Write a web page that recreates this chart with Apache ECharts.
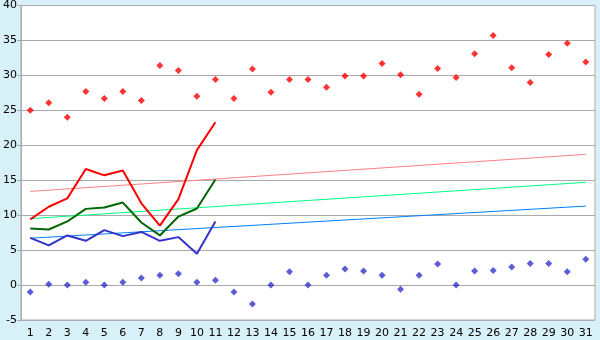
<!DOCTYPE html>
<html><head><meta charset="utf-8">
<script src="https://cdn.jsdelivr.net/npm/echarts@6/dist/echarts.min.js"></script>
<style>html,body{margin:0;padding:0;background:#D8F0F7;}#c{width:600px;height:340px;}</style>
</head><body><div id="c"></div>
<script>
var days = [];
for (var i = 1; i <= 31; i++) days.push(String(i));
var maxPoints = [25.0,26.1,24.0,27.7,26.7,27.7,26.4,31.4,30.7,27.0,29.4,26.7,30.9,27.6,29.4,29.4,28.3,29.9,29.9,31.7,30.1,27.3,31.0,29.7,33.1,35.7,31.1,29.0,33.0,34.6,31.9];
var minPoints = [-1.0,0.1,0.0,0.4,0.0,0.4,1.0,1.4,1.6,0.4,0.7,-1.0,-2.7,0.0,1.9,0.0,1.4,2.3,2.0,1.4,-0.6,1.4,3.0,0.0,2.0,2.1,2.6,3.1,3.1,1.9,3.7];
var maxLine = [9.4,11.2,12.4,16.6,15.7,16.4,11.7,8.5,12.3,19.3,23.3];
var meanLine = [8.1,7.95,9.1,10.9,11.1,11.8,8.95,7.1,9.8,10.95,15.1];
var minLine = [6.76,5.67,7.1,6.33,7.86,7.0,7.6,6.33,6.86,4.48,9.1];
var maxTrend = [[0,13.4],[30,18.7]];
var meanTrend = [[0,9.5],[30,14.7]];
var minTrend = [[0,6.7],[30,11.3]];
var yTicks = {min:-5, max:40, interval:5};

var chart = echarts.init(document.getElementById('c'), null, {renderer:'canvas'});
var font = {fontFamily:'DejaVu Sans', fontSize:11, color:'#000'};
chart.setOption({
  animation:false,
  backgroundColor:'#D8F0F7',
  grid:{left:20, right:5, top:5, bottom:20, show:true, backgroundColor:'#fff', borderColor:'#aaa', borderWidth:1},
  xAxis:{type:'category', data:days, boundaryGap:true,
    axisLine:{lineStyle:{color:'#aaa'}},
    axisTick:{alignWithLabel:true, length:5, lineStyle:{color:'#333'}},
    axisLabel:Object.assign({interval:0, margin:8}, font),
    splitLine:{show:false}},
  yAxis:{type:'value', min:yTicks.min, max:yTicks.max, interval:yTicks.interval,
    axisLine:{show:true, lineStyle:{color:'#aaa'}},
    axisTick:{show:true, length:4, lineStyle:{color:'#aaa'}},
    axisLabel:Object.assign({margin:4}, font),
    splitLine:{lineStyle:{color:'#aaa'}}},
  series:[
    {type:'line', data:maxTrend, symbol:'none', lineStyle:{color:'#FF8080', width:1}, z:1},
    {type:'line', data:meanTrend, symbol:'none', lineStyle:{color:'#00FF80', width:1}, z:1},
    {type:'line', data:minTrend, symbol:'none', lineStyle:{color:'#0080FF', width:1}, z:1},
    {type:'line', data:maxLine, symbol:'none', lineStyle:{color:'#FF0000', width:2}, z:2},
    {type:'line', data:meanLine, symbol:'none', lineStyle:{color:'#006600', width:2}, z:2},
    {type:'line', data:minLine, symbol:'none', lineStyle:{color:'#3333CC', width:2}, z:2},
    {type:'scatter', data:maxPoints, symbol:'diamond', symbolSize:7, itemStyle:{color:'#FF0000'}, z:3},
    {type:'scatter', data:minPoints, symbol:'diamond', symbolSize:7, itemStyle:{color:'#3333CC'}, z:3}
  ]
});
</script></body></html>
